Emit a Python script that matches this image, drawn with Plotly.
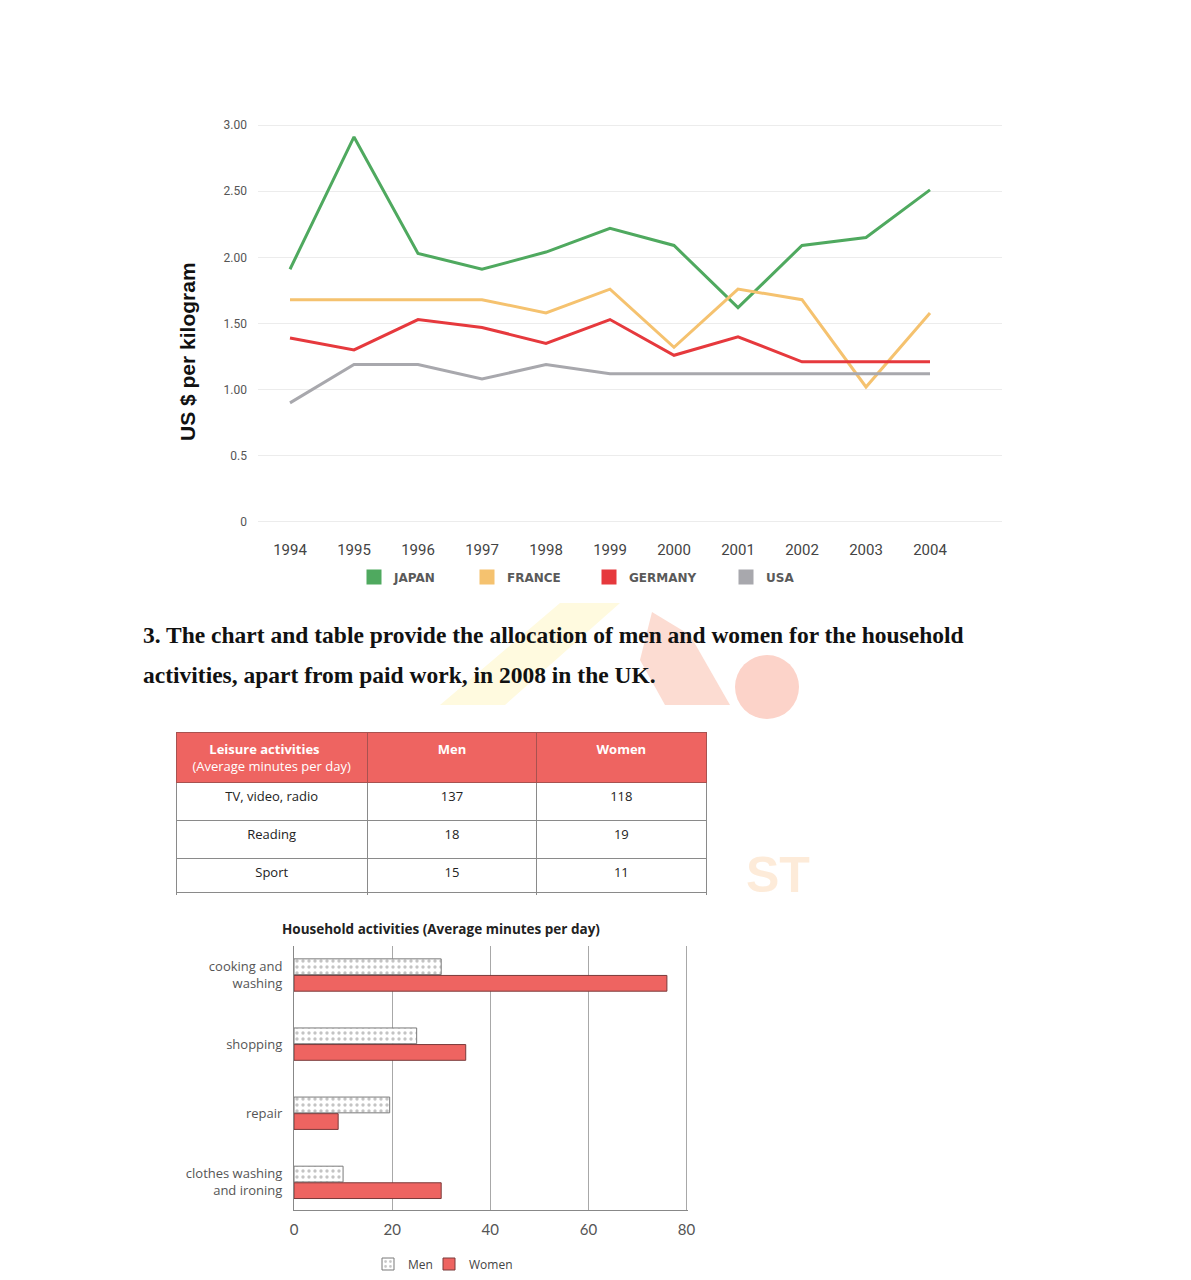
import plotly.graph_objects as go

W, H = 1191, 1280
OFF = 8                      # default page margin of the html body
FW, FH = W - 2 * OFF, H - 2 * OFF
def px(x): return (x - OFF) / FW
def py(y): return 1 - (y - OFF) / FH

# ---------------- data ----------------
years = [1994, 1995, 1996, 1997, 1998, 1999, 2000, 2001, 2002, 2003, 2004]
japan   = [1.91, 2.91, 2.03, 1.91, 2.04, 2.22, 2.09, 1.62, 2.09, 2.15, 2.51]
france  = [1.68, 1.68, 1.68, 1.68, 1.58, 1.76, 1.32, 1.76, 1.68, 1.02, 1.58]
germany = [1.39, 1.30, 1.53, 1.47, 1.35, 1.53, 1.26, 1.40, 1.21, 1.21, 1.21]
usa     = [0.90, 1.19, 1.19, 1.08, 1.19, 1.12, 1.12, 1.12, 1.12, 1.12, 1.12]
series_names = ["JAPAN", "FRANCE", "GERMANY", "USA"]
series_colors = ["#4fa95f", "#f5c26f", "#e6393d", "#a8a8ad"]
y_tickvals = [0, 0.5, 1, 1.5, 2, 2.5, 3]
y_ticktext = ["0", "0.5", "1.00", "1.50", "2.00", "2.50", "3.00"]

table_header = ["&nbsp;&nbsp;&nbsp;&nbsp;&nbsp;<b>Leisure activities</b><br>(Average minutes per day)",
                "<b>Men</b>", "<b>Women</b>"]
leisure_acts = ["TV, video, radio", "Reading", "Sport"]
leisure_men = [137, 18, 15]
leisure_women = [118, 19, 11]

house_acts = ["cooking and<br>washing", "shopping", "repair", "clothes washing<br>and ironing"]
house_men = [30, 25, 19.5, 10]
house_women = [76, 35, 9, 30]

para_lines = [
    "3. The chart and table provide the allocation of men and women for the household",
    "activities, apart from paid work, in 2008 in the UK.",
]

fig = go.Figure()

# ---------------- line chart ----------------
for name, vals, col in zip(series_names, [japan, france, germany, usa], series_colors):
    fig.add_trace(go.Scatter(x=years, y=vals, mode="lines", name=name,
                             line=dict(color=col, width=3), showlegend=False,
                             xaxis="x", yaxis="y"))
line_legends = ["legend", "legend3", "legend4", "legend5"]
for name, col, lg in zip(series_names, series_colors, line_legends):
    fig.add_trace(go.Scatter(x=[None], y=[None], mode="markers", name=name,
                             marker=dict(symbol="square", size=15, color=col),
                             legend=lg, xaxis="x", yaxis="y"))

# ---------------- table ----------------
fig.add_trace(go.Table(
    domain=dict(x=[px(176), px(706)], y=[py(896), py(732)]),
    columnwidth=[191, 169, 169],
    header=dict(values=table_header, fill_color="#ee6461",
                line=dict(color="#a85250", width=1),
                font=dict(color="white", size=13, family="Open Sans"),
                align="center", height=47),
    cells=dict(values=[leisure_acts, leisure_men, leisure_women],
               fill_color="white", line=dict(color="#8a8a8a", width=1),
               font=dict(color="#222", size=13, family="Open Sans"),
               align="center", height=38),
))

# ---------------- bar chart ----------------
fig.add_trace(go.Bar(y=house_acts, x=house_men, orientation="h", name="Men",
                     marker=dict(color="white", line=dict(color="#7a7a7a", width=1),
                                 pattern=dict(shape=".", fgcolor="#8a8a8a", bgcolor="white",
                                              size=6, solidity=0.25)),
                     xaxis="x2", yaxis="y2", legend="legend2"))
fig.add_trace(go.Bar(y=house_acts, x=house_women, orientation="h", name="Women",
                     marker=dict(color="#ee6461", line=dict(color="#7a3a3a", width=1)),
                     xaxis="x2", yaxis="y2", legend="legend6"))

leg_font = dict(size=12, color="#5a5a5a", family="DejaVu Sans", weight="bold")
def leg(x, y, font, yanchor="middle"):
    return dict(orientation="h", x=px(x), y=y, xanchor="left", yanchor=yanchor,
                font=font, itemwidth=30, bgcolor="rgba(0,0,0,0)")

fig.update_layout(
    width=FW, height=FH, margin=dict(l=0, r=0, t=0, b=0, autoexpand=False),
    paper_bgcolor="white", plot_bgcolor="white",
    font=dict(family="Lato", color="#333"),
    barmode="group", bargap=0.52, bargroupgap=0.05,
    xaxis=dict(domain=[px(258), px(1002)], range=[1993.5, 2005.125],
               tickvals=years, showgrid=False, zeroline=False, showline=False,
               ticklabelstandoff=4,
               tickfont=dict(size=15, color="#444", family="Roboto"),
               anchor="y"),
    yaxis=dict(domain=[py(535.2), py(111.8)], range=[-0.1, 3.1],
               tickvals=y_tickvals, ticktext=y_ticktext, gridcolor="#ececec",
               zeroline=False, showline=False, ticklabelstandoff=10,
               tickfont=dict(size=12, color="#555", family="Roboto"),
               anchor="x"),
    xaxis2=dict(domain=[px(294), px(688)], range=[0, 80.3], tickvals=[0, 20, 40, 60, 80],
                gridcolor="#a8a8a8", zeroline=False, showline=True,
                linecolor="#888", mirror=False, ticklabelstandoff=6,
                tickfont=dict(size=15, color="#555", family="Lato"),
                anchor="y2"),
    yaxis2=dict(domain=[py(1210), py(946)], type="category",
                range=[3.4, -0.42], showline=True, linecolor="#888",
                showgrid=False, ticklabelstandoff=8,
                tickfont=dict(size=13, color="#555", family="Open Sans"),
                anchor="x2"),
    legend=leg(354, py(577), leg_font),
    legend3=leg(467, py(577), leg_font),
    legend4=leg(589, py(577), leg_font),
    legend5=leg(726, py(577), leg_font),
    legend2=leg(368, py(1264), dict(size=12, color="#444", family="Open Sans")),
    legend6=leg(429, py(1264), dict(size=12, color="#444", family="Open Sans")),
)

# table bottom border
fig.add_shape(type="line", xref="paper", yref="paper",
              x0=px(176), x1=px(706), y0=py(892.5), y1=py(892.5),
              line=dict(color="#8a8a8a", width=1.2))

# watermark shapes (faint)
fig.add_shape(type="path", xref="paper", yref="paper", layer="below",
              path=f"M {px(560)},{py(603)} L {px(620)},{py(603)} L {px(505)},{py(705)} L {px(440)},{py(705)} Z",
              fillcolor="#fffadf", line=dict(width=0))
fig.add_shape(type="path", xref="paper", yref="paper", layer="below",
              path=f"M {px(652)},{py(612)} L {px(690)},{py(635)} L {px(730)},{py(705)} L {px(665)},{py(705)} L {px(640)},{py(660)} Z",
              fillcolor="#fcdcd2", line=dict(width=0))
fig.add_shape(type="circle", xref="paper", yref="paper", layer="below",
              x0=px(735), x1=px(799), y0=py(719), y1=py(655),
              fillcolor="#fcd3c9", line=dict(width=0))

ann = []
ann.append(dict(text="US $ per kilogram", x=px(187), y=py(352), xref="paper", yref="paper",
                xanchor="center", yanchor="middle",
                showarrow=False, textangle=-90,
                font=dict(size=21, color="#111", family="Liberation Sans", weight="bold")))
for i, line in enumerate(para_lines):
    ann.append(dict(text=f"<b>{line}</b>", x=px(141), y=py(635 + 40 * i), xref="paper", yref="paper",
                    xanchor="left", yanchor="middle", showarrow=False,
                    font=dict(size=23.5, color="#111", family="Liberation Serif")))
ann.append(dict(text="<b>Household activities (Average minutes per day)</b>", x=px(441), y=py(929),
                xref="paper", yref="paper", showarrow=False, xanchor="center", yanchor="middle",
                font=dict(size=13.5, color="#222", family="Open Sans")))
ann.append(dict(text="<b>ST</b>", x=px(778), y=py(905), xref="paper", yref="paper", showarrow=False,
                font=dict(size=50, color="rgba(250,205,160,0.4)", family="Liberation Sans")))
fig.update_layout(annotations=ann)

fig.write_html("out.html")
